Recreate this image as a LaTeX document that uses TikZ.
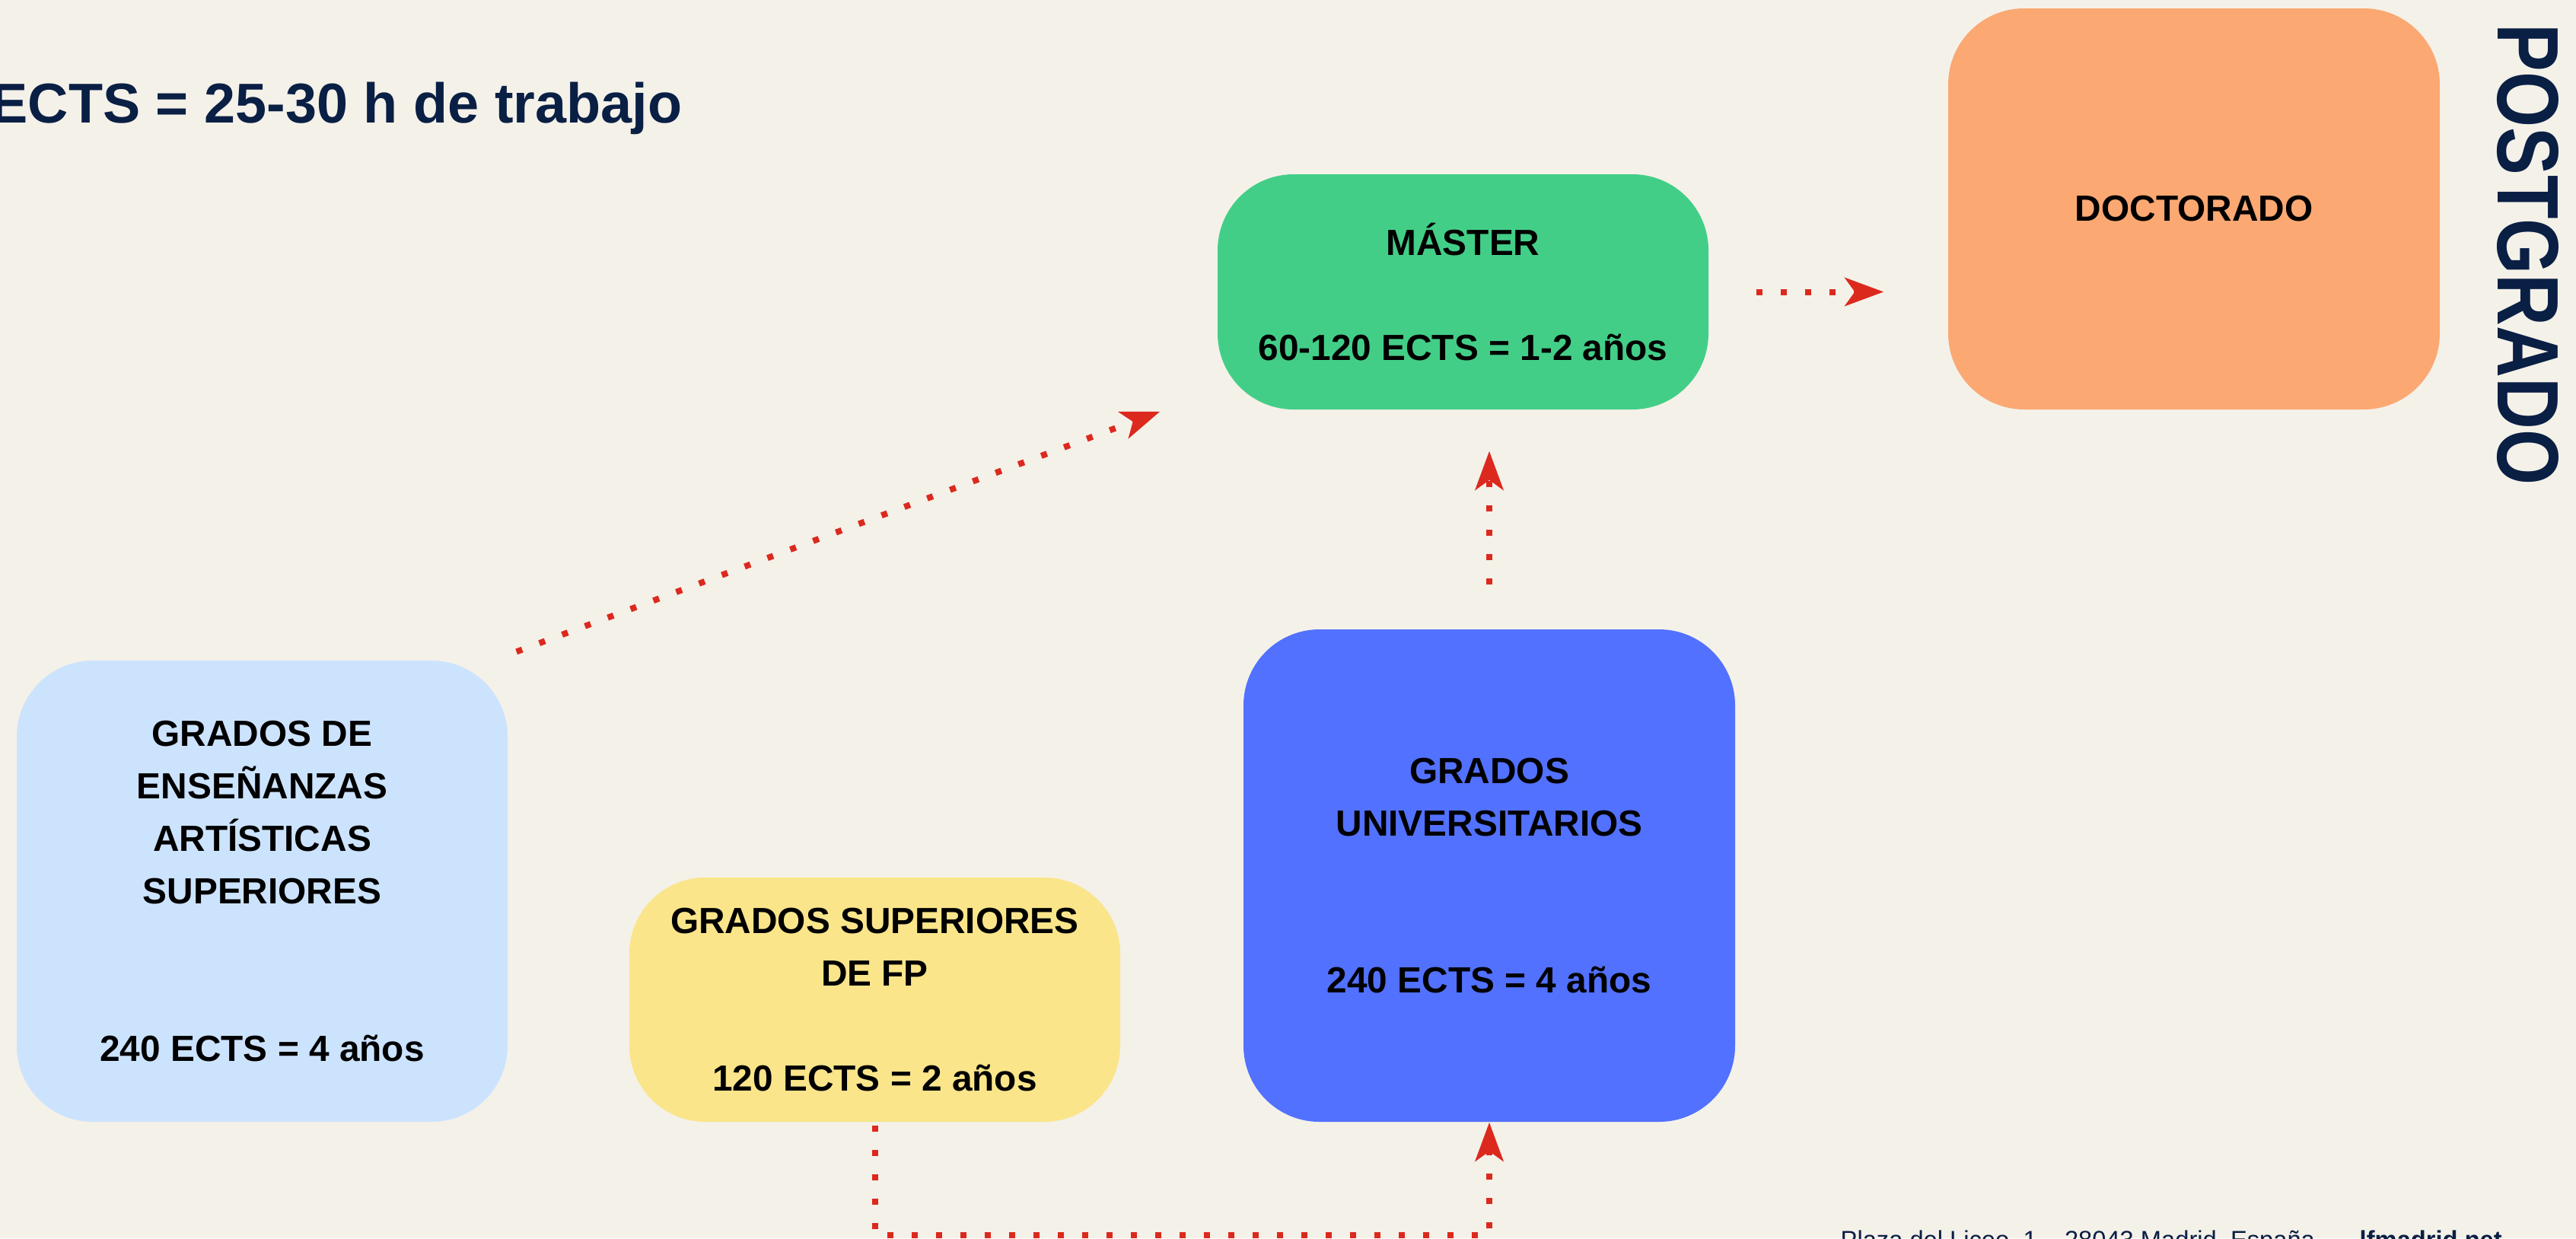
\documentclass[tikz,border=0pt]{standalone}
\usepackage{fontspec}
\setmainfont{Liberation Sans}
\newfontfamily\estrecha[FakeStretch=0.82]{Liberation Sans}
\usetikzlibrary{arrows.meta, calc}

\definecolor{fondo}{HTML}{F4F1E9}
\definecolor{azulclaro}{HTML}{CCE3FE}
\definecolor{amarillo}{HTML}{FAE58A}
\definecolor{azul}{HTML}{5271FF}
\definecolor{verde}{HTML}{43CE88}
\definecolor{naranja}{HTML}{FBA873}
\definecolor{marino}{HTML}{0A1F44}
\definecolor{rojo}{HTML}{DC291E}

\begin{document}
\begin{tikzpicture}[
    caja/.style={rectangle, rounded corners=1cm, minimum width=6.45cm, inner sep=0pt,
        align=center, font=\bfseries\fontsize{13.6}{19.6}\selectfont},
    flecha/.style={draw=rojo, line width=0.08cm, dash pattern=on 0.08cm off 0.24cm,
        -{Stealth[length=0.51cm, width=0.37cm, inset=0.13cm]}}
]
\fill[fondo] (0,0) rectangle (33.85,-16.27);
\useasboundingbox (0,0) rectangle (33.85,-16.27);

%\node[text=marino] (T) at (0,0) {1 ECTS};
\node[anchor=base west, inner sep=0pt, text=marino, font=\bfseries\fontsize{21}{25}\selectfont] (T) at (-0.13,-1.61) {ECTS = 25-30 h de trabajo};
\node[rotate=-90, inner sep=0pt, text=marino, font=\estrecha\bfseries\fontsize{32.6}{36}\selectfont] (P) at (33.22,-3.345) {POSTGRADO};

\begin{scope}[every node/.style={caja}]
    \node[fill=azulclaro, minimum height=6.06cm] (ART) at (3.445,-11.71) {GRADOS DE\\ENSEÑANZAS\\ARTÍSTICAS\\SUPERIORES\\[39.2pt]240 ECTS = 4 años};
    \node[fill=amarillo, minimum height=3.21cm] (FP) at (11.495,-13.135) {GRADOS SUPERIORES\\DE FP\\[19.6pt]120 ECTS = 2 años};
    \node[fill=azul, minimum height=6.47cm, minimum width=6.46cm] (UNI) at (19.57,-11.505) {GRADOS\\UNIVERSITARIOS\\[39.2pt]240 ECTS = 4 años};
    \node[fill=verde, minimum height=3.09cm] (MAS) at (19.225,-3.835) {MÁSTER\\[19.6pt]60-120 ECTS = 1-2 años};
    \node[fill=naranja, minimum height=5.27cm, minimum width=6.46cm] (DOC) at (28.83,-2.745) {DOCTORADO};
\end{scope}

\draw[flecha] ($(ART.north east)+(0.11,0.11)$) -- ($(MAS.south west)+(-0.75,-0.02)$);
\draw[flecha, shorten <=0.62cm, shorten >=0.84cm] (MAS.east) -- (MAS.east -| DOC.west);
\draw[flecha, shorten <=0.58cm, shorten >=0.54cm] (UNI.north) -- (UNI.north |- MAS.south);
\draw[flecha, shorten <=0.04cm] (FP.south) -- ++(0,-1.48) -| (UNI.south);

\node[anchor=base west, inner sep=0pt, text=marino, font=\fontsize{9.3}{11}\selectfont] (DIR) at (24.18,-16.40) {Plaza del Liceo, 1 – 28043 Madrid, España};
\node[anchor=base west, inner sep=0pt, text=marino, font=\bfseries\fontsize{9.3}{11}\selectfont] (WEB) at (31.00,-16.40) {lfmadrid.net};
\end{tikzpicture}
\end{document}
